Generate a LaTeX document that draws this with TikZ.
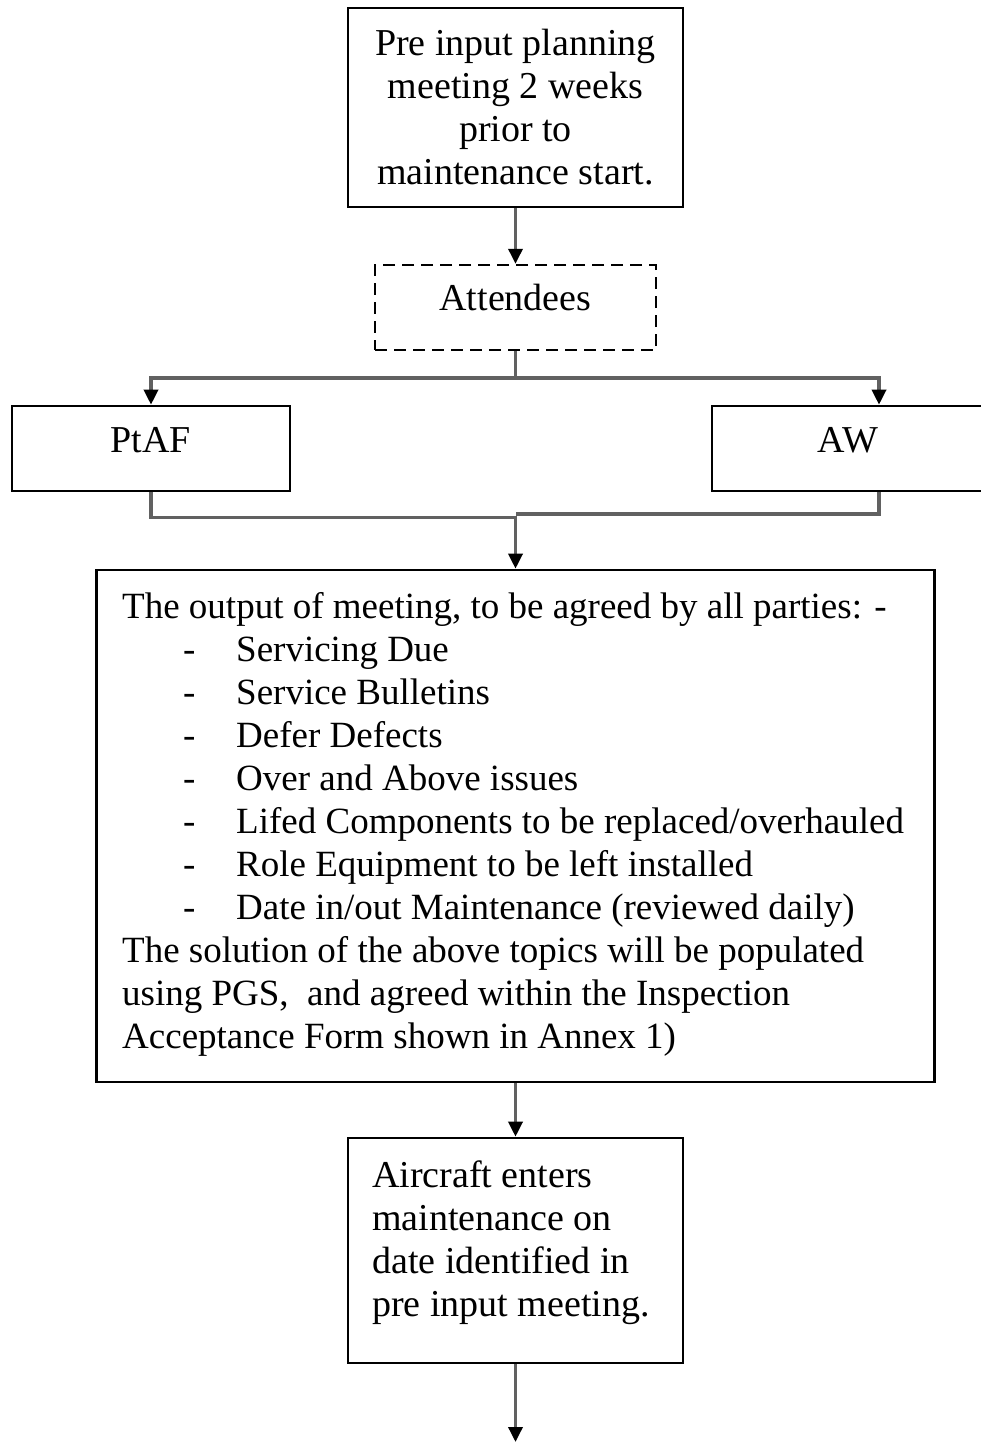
\documentclass[tikz,border=0pt]{standalone}
\usepackage{fontspec}
\setmainfont{Liberation Serif}
\usetikzlibrary{arrows.meta,calc}
\tikzset{
  boxA/.style={draw=black, line width=2.6pt, inner sep=0pt, align=center},
  dashbox/.style={draw=black, line width=2.4pt, dash pattern=on 12pt off 7pt, inner sep=0pt},
  conn/.style={draw=black!62, line width=3.4pt, -{Triangle[width=14pt,length=15pt,color=black]}},
  plain/.style={draw=black!62, line width=3.4pt},
  bigfont/.style={font=\fontsize{38}{43}\selectfont},
  midfont/.style={font=\fontsize{37}{43}\selectfont}
}
\newcommand{\itm}[1]{\makebox[61pt][l]{}\makebox[53pt][l]{-}#1}
\begin{document}
\begin{tikzpicture}[x=1pt,y=-1pt]
\useasboundingbox (0,0) rectangle (980,1442);
\fill[white] (0,0) rectangle (980,1442);
% boxes
\node[boxA, minimum width=335pt, minimum height=199pt, bigfont] (top) at (515.5,107.5)
  {Pre input planning\\meeting 2 weeks\\prior to\\maintenance start.};
\node[dashbox, minimum width=281pt, minimum height=85pt] (att) at (515.5,307.5) {};
\node[bigfont] (atttext) at (515.5,298) {Attendees};
\node[boxA, minimum width=278pt, minimum height=85pt] (ptaf) at (151,448.5) {};
\node[bigfont] (ptaftext) at (151,440) {PtAF};
\node[boxA, minimum width=278pt, minimum height=85pt] (aw) at (851,448.5) {};
\node[bigfont] (awtext) at (848,440) {AW};
\node[boxA, minimum width=838pt, minimum height=512pt] (out) at (515.5,826) {};
\node[midfont, anchor=north west, align=left, inner sep=0pt] (outtext) at (122,592)
  {The output of meeting, to be agreed by all parties: -\\
   \itm{Servicing Due}\\
   \itm{Service Bulletins}\\
   \itm{Defer Defects}\\
   \itm{Over and Above issues}\\
   \itm{Lifed Components to be replaced/overhauled}\\
   \itm{Role Equipment to be left installed}\\
   \itm{Date in/out Maintenance (reviewed daily)}\\
   The solution of the above topics will be populated\\
   using PGS,\ \ and agreed within the Inspection\\
   Acceptance Form shown in Annex 1)};
\node[boxA, minimum width=335pt, minimum height=225pt] (air) at (515.5,1250.5) {};
\node[bigfont, anchor=north west, align=left, inner sep=0pt] (airtext) at (372,1161)
  {Aircraft enters\\maintenance on\\date identified in\\pre input meeting.};
% connectors
\coordinate (j1) at (515.5,378);
\coordinate (awin) at ([xshift=28pt]aw.north);
\coordinate (awout) at ([xshift=28pt]aw.south);
\coordinate (j2) at (515.5,514);
\coordinate (fin) at (515.5,1442);
\draw[conn] (top.south) -- (att.north);
\draw[plain] (att.south) -- (j1);
\draw[conn] (j1) -| (ptaf.north);
\draw[conn] (j1) -| (awin);
\draw[conn] (ptaf.south) |- ($(out.north)+(0,-51)$) -- (out.north);
\draw[plain] (awout) |- (j2);
\draw[conn] (out.south) -- (air.north);
\draw[conn] (air.south) -- (fin);
\end{tikzpicture}
\end{document}
